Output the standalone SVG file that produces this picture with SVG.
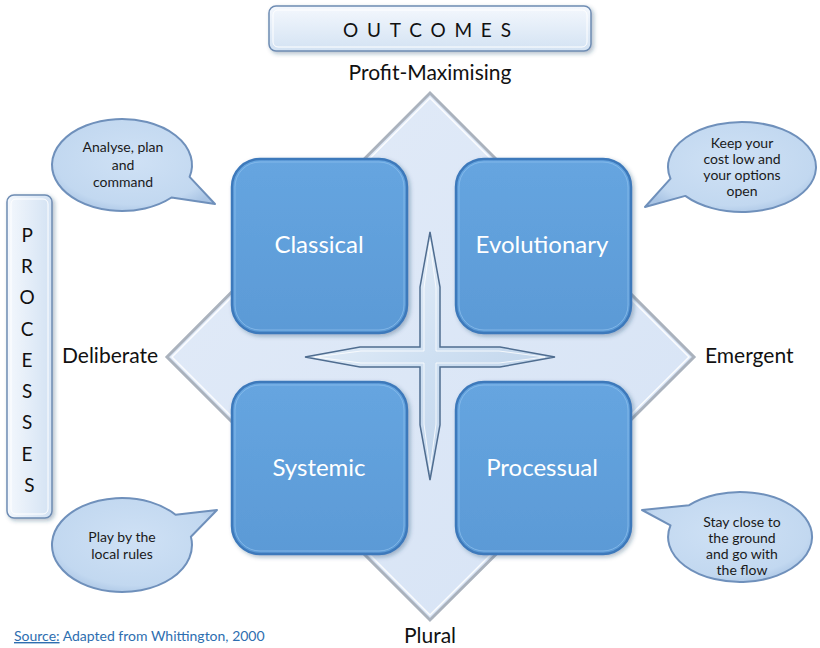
<svg xmlns="http://www.w3.org/2000/svg" width="820" height="648" viewBox="0 0 820 648">
<defs>
<linearGradient id="boxG" x1="0" y1="0" x2="0" y2="1">
<stop offset="0" stop-color="#66a5e0"/>
<stop offset="1" stop-color="#5b9ad6"/>
</linearGradient>
<linearGradient id="hdrG" x1="0" y1="0" x2="0" y2="1">
<stop offset="0" stop-color="#f4f8fd"/>
<stop offset="1" stop-color="#d3e2f3"/>
</linearGradient>
<linearGradient id="vG" x1="0" y1="0" x2="1" y2="0">
<stop offset="0" stop-color="#f4f8fd"/>
<stop offset="1" stop-color="#d3e2f3"/>
</linearGradient>
<radialGradient id="bubG" cx="0.5" cy="0.45" r="0.6">
<stop offset="0" stop-color="#cfe1f5"/>
<stop offset="0.8" stop-color="#c2d8f0"/>
<stop offset="1" stop-color="#a9c4e4"/>
</radialGradient>
<linearGradient id="diaG" x1="0" y1="0" x2="1" y2="1">
<stop offset="0" stop-color="#e2ebf8"/>
<stop offset="1" stop-color="#d6e3f5"/>
</linearGradient>
<linearGradient id="crossG" x1="0" y1="0" x2="1" y2="1">
<stop offset="0" stop-color="#f2f7fc"/>
<stop offset="0.5" stop-color="#cfe0f2"/>
<stop offset="1" stop-color="#b7cde6"/>
</linearGradient>
<filter id="sh" x="-10%" y="-10%" width="125%" height="125%">
<feDropShadow dx="2" dy="2" stdDeviation="2" flood-color="#1f3f66" flood-opacity="0.35"/>
</filter>
<style>
.box{fill:url(#boxG);stroke:#3d79bb;stroke-width:2.5;filter:url(#sh)}
.boxhl{fill:none;stroke:#8fc0ee;stroke-width:1;opacity:0.7}
.blabel{font-family:Lato,"Liberation Sans",sans-serif;font-size:24px;fill:#ffffff;text-anchor:middle}
.lab{font-family:Lato,"Liberation Sans",sans-serif;font-size:21px;fill:#111111}
.bub{fill:url(#bubG);stroke:#6f90bb;stroke-width:2;stroke-linejoin:round}
.btxt{font-family:Lato,"Liberation Sans",sans-serif;font-size:14px;fill:#1a1a1a;text-anchor:middle}
.panel{stroke:#6e8cb3;stroke-width:1.5}
.ptxt{font-family:Lato,"Liberation Sans",sans-serif;font-size:19px;fill:#111111}
</style>
</defs>
<rect width="820" height="648" fill="#ffffff"/>

<g id="diamond">
<polygon points="430,93 694,357 430,620 167,357" fill="url(#diaG)" stroke="#aab2bd" stroke-width="3"/>
<polygon points="430,98 689,357 430,615 172,357" fill="none" stroke="#ffffff" stroke-width="1.5" opacity="0.9"/>
</g>

<g id="outcomes">
<rect x="269" y="6" width="322" height="45" rx="7" fill="url(#hdrG)" class="panel" filter="url(#sh)"/>
<rect x="273" y="10" width="314" height="37" rx="5" fill="none" stroke="#ffffff" stroke-width="1"/>
<text x="343" y="37" class="ptxt" letter-spacing="8.8">OUTCOMES</text>
</g>

<g id="processes">
<rect x="7" y="195" width="45" height="323" rx="7" fill="url(#vG)" class="panel" filter="url(#sh)"/>
<rect x="11" y="199" width="37" height="315" rx="5" fill="none" stroke="#ffffff" stroke-width="1"/>
<text class="ptxt" text-anchor="middle">
<tspan x="29.5" y="242">P</tspan>
<tspan x="29.5" y="273">R</tspan>
<tspan x="29.5" y="304">O</tspan>
<tspan x="29.5" y="336">C</tspan>
<tspan x="29.5" y="367">E</tspan>
<tspan x="29.5" y="398">S</tspan>
<tspan x="29.5" y="429">S</tspan>
<tspan x="29.5" y="461">E</tspan>
<tspan x="29.5" y="492">S</tspan>
</text>
</g>

<g id="axis-labels">
<text x="430" y="80" class="lab" text-anchor="middle">Profit-Maximising</text>
<text x="62" y="363" class="lab">Deliberate</text>
<text x="705" y="363" class="lab">Emergent</text>
<text x="430" y="643" class="lab" text-anchor="middle">Plural</text>
</g>

<g id="classical">
<rect x="232" y="159" width="175" height="174" rx="28" class="box"/>
<rect x="235" y="162" width="169" height="168" rx="25" class="boxhl"/>
<text x="319" y="253" class="blabel">Classical</text>
</g>
<g id="evolutionary">
<rect x="456" y="159" width="175" height="174" rx="28" class="box"/>
<rect x="459" y="162" width="169" height="168" rx="25" class="boxhl"/>
<text x="542" y="253" class="blabel">Evolutionary</text>
</g>
<g id="systemic">
<rect x="232" y="382" width="175" height="172" rx="28" class="box"/>
<rect x="235" y="385" width="169" height="166" rx="25" class="boxhl"/>
<text x="319" y="476" class="blabel">Systemic</text>
</g>
<g id="processual">
<rect x="456" y="382" width="175" height="172" rx="28" class="box"/>
<rect x="459" y="385" width="169" height="166" rx="25" class="boxhl"/>
<text x="542" y="476" class="blabel">Processual</text>
</g>

<g id="cross">
<polygon points="430,232 440,287 440,347 500,347 555,357 500,367 440,367 440,425 430,480 420,425 420,367 360,367 305,357 360,347 420,347 420,287" fill="url(#crossG)" stroke="#4f6d90" stroke-width="1.5" stroke-linejoin="miter"/>
<polygon points="430,242 436,288 436,351 499,351 545,357 499,363 436,363 436,424 430,470 424,424 424,363 361,363 315,357 361,351 424,351 424,288" fill="none" stroke="#ffffff" stroke-width="1" opacity="0.8"/>
</g>

<g id="bubble-analyse">
<path class="bub" d="M 171.5,197.5 A 70 46 0 1 1 189.6,176.9 L 215,204 Z"/>
<text class="btxt"><tspan x="123" y="152">Analyse, plan</tspan><tspan x="123" y="170">and</tspan><tspan x="123" y="187">command</tspan></text>
</g>
<g id="bubble-keep">
<path class="bub" d="M 670.5,178.6 A 74 45 0 1 1 685.3,195.9 L 645,207 Z"/>
<text class="btxt"><tspan x="742" y="148">Keep your</tspan><tspan x="742" y="164">cost low and</tspan><tspan x="742" y="180">your options</tspan><tspan x="742" y="196">open</tspan></text>
</g>
<g id="bubble-play">
<path class="bub" d="M 190.9,536.8 A 70 47 0 1 1 175.6,514.8 L 217,510 Z"/>
<text class="btxt"><tspan x="122" y="542">Play by the</tspan><tspan x="122" y="559">local rules</tspan></text>
</g>
<g id="bubble-stay">
<path class="bub" d="M 689.1,505.2 A 72 45 0 1 1 670.5,525.4 L 642,510 Z"/>
<text class="btxt"><tspan x="742" y="527">Stay close to</tspan><tspan x="742" y="543">the ground</tspan><tspan x="742" y="559">and go with</tspan><tspan x="742" y="575">the flow</tspan></text>
</g>

<g id="connectors"></g>

<g id="source">
<text x="14" y="641" font-family="Lato,'Liberation Sans',sans-serif" font-size="14" fill="#2e6eb0"><tspan text-decoration="underline">Source:</tspan> Adapted from Whittington, 2000</text>
</g>
</svg>
